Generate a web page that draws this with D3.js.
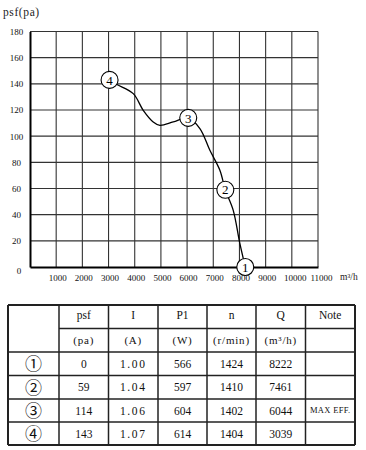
<!DOCTYPE html>
<html><head><meta charset="utf-8">
<script src="https://cdn.jsdelivr.net/npm/d3@7"></script>
<style>body{margin:0;background:#fff}svg{display:block}</style>
</head><body>
<script>
// ---- data ----
const xTickValues = [1000,2000,3000,4000,5000,6000,7000,8000,9000,10000,11000];
const yTickValues = [0,20,40,60,80,100,120,140,160,180];
// curve samples (Q m³/h, psf Pa)
const curveQ   = [3039,3317,3943,4325,4706,4962,5470,6044,6489,6870,7252,7461,7760,8015,8222];
const curvePsf = [143,139.5,132.5,119.8,110.9,108.3,110.9,114,105.8,89.2,74,59,43.5,18,0];
// operating points table
const pointIds   = ["①","②","③","④"];
const pointNums  = ["1","2","3","4"];
const psfVals    = [0,59,114,143];
const currentVals= [1.00,1.04,1.06,1.07];
const powerVals  = [566,597,604,614];
const speedVals  = [1424,1410,1402,1404];
const flowVals   = [8222,7461,6044,3039];
const noteVals   = ["","","MAX EFF.",""];
const headers    = ["psf","I","P1","n","Q","Note"];
const units      = ["(pa)","(A)","(W)","(r/min)","(m³/h)",""];

const W=366,H=450;
const svg=d3.select("body").append("svg").attr("width",W).attr("height",H);
svg.append("rect").attr("width",W).attr("height",H).attr("fill","#fff");

const x=d3.scaleLinear().domain([0,11000]).range([30,318]);
const y=d3.scaleLinear().domain([0,180]).range([267,31.5]);
const serif="'Liberation Serif','DejaVu Serif',serif";

const g=svg.append("g");
// grid
g.selectAll("line.v").data(xTickValues).join("line").attr("class","v")
 .attr("x1",d=>x(d)).attr("x2",d=>x(d)).attr("y1",y(0)).attr("y2",y(180))
 .attr("stroke","#333").attr("stroke-width",1.1);
g.selectAll("line.h").data(yTickValues.filter(d=>d>0)).join("line").attr("class","h")
 .attr("y1",d=>y(d)).attr("y2",d=>y(d)).attr("x1",x(0)).attr("x2",x(11000))
 .attr("stroke","#333").attr("stroke-width",1.1);
// axes
const xAxis=d3.axisBottom(x).tickValues(xTickValues).tickSize(0).tickPadding(8).tickFormat(d3.format("d"));
const gx=g.append("g").attr("transform",`translate(0,${y(0)})`).call(xAxis);
gx.select(".domain").attr("stroke","#000").attr("stroke-width",2);
gx.selectAll("text").attr("font-family",serif).attr("font-size",9).attr("fill","#111").attr("dx",d=>d>=10000?3:1);
const yAxis=d3.axisLeft(y).tickValues(yTickValues).tickSize(0).tickPadding(7).tickFormat(d3.format("d"));
const gy=g.append("g").attr("transform",`translate(${x(0)},0)`).call(yAxis);
gy.select(".domain").attr("stroke","#000").attr("stroke-width",2);
gy.selectAll("text").attr("font-family",serif).attr("font-size",9).attr("fill","#111")
 .attr("text-anchor","middle").attr("x",-13.5)
 .attr("dx",d=>d===0?2.5:0).attr("dy",d=>d===0?"0.75em":"0.32em");

svg.append("text").attr("x",3).attr("y",16).attr("font-family",serif).attr("font-size",11.5)
 .attr("letter-spacing",0.6).attr("fill","#222").text("psf(pa)");
svg.append("text").attr("x",340).attr("y",280).attr("font-family",serif).attr("font-size",9.5).attr("fill","#222").text("m³/h");

// curve
const pts=curveQ.map((q,i)=>[q,curvePsf[i]]);
g.append("path").datum(pts)
 .attr("d",d3.line().x(d=>x(d[0])).y(d=>y(d[1])).curve(d3.curveCatmullRom.alpha(0.5)))
 .attr("fill","none").attr("stroke","#000").attr("stroke-width",1.3);
// points
const pg=g.selectAll("g.pt").data(flowVals.map((q,i)=>({q,p:psfVals[i],n:pointNums[i]}))).join("g")
 .attr("transform",d=>`translate(${x(d.q)},${y(d.p)})`);
pg.append("circle").attr("r",8.5).attr("fill","#fff").attr("stroke","#000").attr("stroke-width",1.1);
pg.append("text").attr("text-anchor","middle").attr("dy","0.36em").attr("font-family",serif).attr("font-size",13).attr("fill","#000").text(d=>d.n);

// ---- table ----
const colX=[8,59,108.5,158,207,256,305.5,355];
const rowY=[305,328.5,352,375.5,399,422,445];
const tg=svg.append("g");
const ls="#222";
rowY.forEach((ry,i)=>{
  const x1 = (i===1)? colX[1] : colX[0];
  const outer=(i===0||i===rowY.length-1);
  tg.append("line").attr("x1",x1).attr("x2",colX[7]).attr("y1",ry).attr("y2",ry)
   .attr("stroke",ls).attr("stroke-width",outer?2:1.5);
});
colX.forEach((cx,i)=>{
  const outer=(i===0||i===colX.length-1);
  tg.append("line").attr("x1",cx).attr("x2",cx).attr("y1",rowY[0]).attr("y2",rowY[6])
   .attr("stroke",ls).attr("stroke-width",outer?2:1.5);
});
const cc=i=>(colX[i]+colX[i+1])/2, rc=i=>(rowY[i]+rowY[i+1])/2;
headers.forEach((h,i)=>{
  tg.append("text").attr("x",cc(i+1)).attr("y",rc(0)).attr("dy","0.2em").attr("text-anchor","middle")
   .attr("font-family",serif).attr("font-size",11.5).attr("fill","#111").text(h);
});
units.forEach((u,i)=>{
  tg.append("text").attr("x",cc(i+1)).attr("y",rc(1)).attr("dy","0.35em").attr("text-anchor","middle")
   .attr("font-family",serif).attr("font-size",11).attr("letter-spacing",0.8).attr("fill","#111").text(u);
});
const cols=[psfVals.map(String), currentVals.map(d3.format(".2f")), powerVals.map(String), speedVals.map(String), flowVals.map(String), noteVals];
pointIds.forEach((id,r)=>{
  tg.append("text").attr("x",cc(0)).attr("y",rc(r+2)).attr("dy","0.38em").attr("text-anchor","middle")
   .attr("font-family","'Noto Sans CJK SC',sans-serif").attr("font-weight",400).attr("font-size",17).attr("fill","#111").text(id);
  cols.forEach((c,ci)=>{
    tg.append("text").attr("x",cc(ci+1)).attr("y",rc(r+2)).attr("dy","0.35em").attr("text-anchor","middle")
     .attr("font-family",serif).attr("font-size",ci===5?8.5:11.5)
     .attr("letter-spacing",ci===1?1.6:(ci===5?0.3:0))
     .attr("fill","#111").text(c[r]);
  });
});
</script>
</body></html>
